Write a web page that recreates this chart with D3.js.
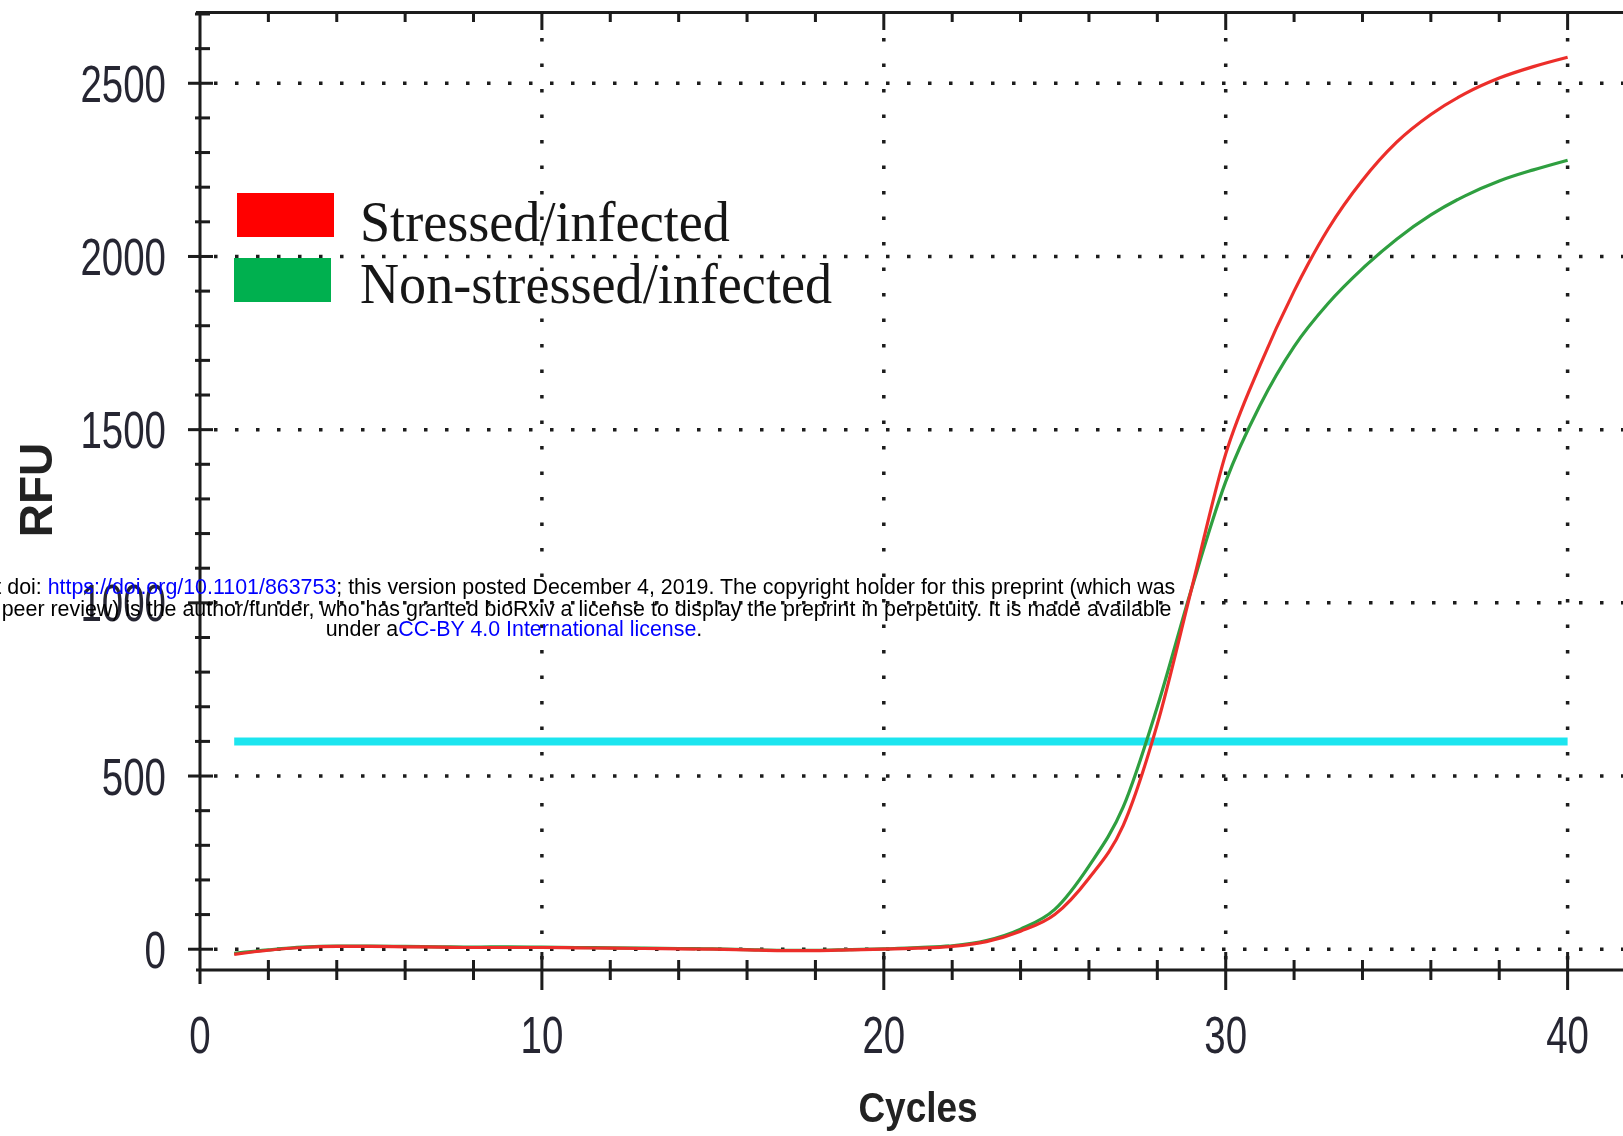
<!DOCTYPE html>
<html>
<head>
<meta charset="utf-8">
<script src="https://cdn.jsdelivr.net/npm/d3@7"></script>
<style>
  html, body { margin: 0; padding: 0; background: #fff; }
  svg { display: block; }
</style>
</head>
<body>
<svg id="chart" width="1623" height="1136"></svg>
<script>
// Amplification cycles and RFU readings for the two groups
const cycles = d3.range(1, 41);
const stressed = [
  -15, -3, 5, 8, 8, 7, 6, 5, 5, 5,
  4, 3, 2, 1, 0, -2, -4, -4, -2, 0,
  3, 8, 22, 52, 100, 205, 357, 650, 1040, 1430,
  1685, 1900, 2080, 2220, 2330, 2410, 2470, 2515, 2548, 2575
];
const nonStressed = [
  -12, -2, 6, 9, 9, 8, 7, 6, 7, 6,
  5, 4, 3, 2, 1, -1, -3, -3, -1, 1,
  5, 10, 25, 58, 115, 240, 410, 700, 1040, 1350,
  1570, 1740, 1865, 1965, 2050, 2120, 2175, 2218, 2250, 2278
];
const seriesNames = ["Stressed/infected", "Non-stressed/infected"];
const seriesColors = ["#ec2f2b", "#2f9f3f"];
const legendColors = ["#ff0000", "#00b04f"];
const threshold = 600;
const thresholdSpan = [1, 40];
const xTicks = [0, 10, 20, 30, 40];
const yTicks = [0, 500, 1000, 1500, 2000, 2500];

const svg = d3.select("#chart");
const W = 1623;

const x = d3.scaleLinear().domain([0, 41.62]).range([200, W]);
const y = d3.scaleLinear().domain([-60, 2700]).range([970, 14]);

const defs = svg.append("defs");
defs.append("filter").attr("id", "soft")
  .attr("x", "-5%").attr("y", "-5%").attr("width", "110%").attr("height", "110%")
  .append("feGaussianBlur").attr("stdDeviation", 0.7);

const plot = svg.append("g").attr("filter", "url(#soft)");
const ink = "#1a1a1a";

// dotted grid
plot.append("g").selectAll("line").data(yTicks).join("line")
  .attr("x1", 214).attr("x2", W)
  .attr("y1", d => y(d)).attr("y2", d => y(d))
  .attr("stroke", ink).attr("stroke-width", 3.5)
  .attr("stroke-dasharray", "3.5 17.5");
plot.append("g").selectAll("line").data(xTicks.filter(d => d > 0)).join("line")
  .attr("x1", d => x(d)).attr("x2", d => x(d))
  .attr("y1", 38).attr("y2", 962)
  .attr("stroke", ink).attr("stroke-width", 3.5)
  .attr("stroke-dasharray", "3.5 22");

// threshold line
plot.append("line")
  .attr("x1", x(thresholdSpan[0])).attr("x2", x(thresholdSpan[1]))
  .attr("y1", y(threshold)).attr("y2", y(threshold))
  .attr("stroke", "#1ee5ef").attr("stroke-width", 8);

// amplification curves
const line = d3.line()
  .x((d, i) => x(cycles[i]))
  .y(d => y(d))
  .curve(d3.curveMonotoneX);
[[nonStressed, seriesColors[1]], [stressed, seriesColors[0]]].forEach(([vals, color]) => {
  plot.append("path").datum(vals)
    .attr("d", line)
    .attr("fill", "none")
    .attr("stroke", color)
    .attr("stroke-width", 3.2);
});

// axes
const minorX = d3.range(2, 42, 2).filter(d => d % 10 !== 0);
const minorY = d3.range(0, 2701, 100).filter(d => d % 500 !== 0);

const axes = plot.append("g").attr("stroke", ink).attr("stroke-width", 3);
axes.append("line").attr("x1", 196).attr("x2", W).attr("y1", 12.5).attr("y2", 12.5);
axes.append("line").attr("x1", 196).attr("x2", W).attr("y1", 970).attr("y2", 970);
axes.append("line").attr("x1", 200).attr("x2", 200).attr("y1", 11).attr("y2", 984);

// bottom ticks
axes.append("g").selectAll("line").data(minorX).join("line")
  .attr("x1", d => x(d)).attr("x2", d => x(d)).attr("y1", 960).attr("y2", 980);
axes.append("g").selectAll("line").data(xTicks.filter(d => d > 0)).join("line")
  .attr("x1", d => x(d)).attr("x2", d => x(d)).attr("y1", 952).attr("y2", 990);
// top ticks
axes.append("g").selectAll("line").data(minorX).join("line")
  .attr("x1", d => x(d)).attr("x2", d => x(d)).attr("y1", 12).attr("y2", 22);
axes.append("g").selectAll("line").data(xTicks.filter(d => d > 0)).join("line")
  .attr("x1", d => x(d)).attr("x2", d => x(d)).attr("y1", 12).attr("y2", 30);
// left ticks
axes.append("g").selectAll("line").data(minorY).join("line")
  .attr("x1", 195).attr("x2", 210).attr("y1", d => y(d)).attr("y2", d => y(d));
axes.append("g").selectAll("line").data(yTicks).join("line")
  .attr("x1", 188).attr("x2", 213).attr("y1", d => y(d)).attr("y2", d => y(d));

// tick labels (narrow sans)
const tickFont = "'Liberation Sans', Arial, sans-serif";
plot.append("g").selectAll("text").data(yTicks).join("text")
  .attr("transform", d => `translate(166,${y(d) + 18.5}) scale(0.74,1)`)
  .attr("text-anchor", "end")
  .attr("font-family", tickFont).attr("font-size", 52)
  .attr("fill", "#262633")
  .text(d => d);
plot.append("g").selectAll("text").data(xTicks).join("text")
  .attr("transform", d => `translate(${x(d)},1053) scale(0.74,1)`)
  .attr("text-anchor", "middle")
  .attr("font-family", tickFont).attr("font-size", 52)
  .attr("fill", "#262633")
  .text(d => d);

// axis titles
plot.append("text")
  .attr("transform", "translate(918,1122) scale(0.88,1)")
  .attr("text-anchor", "middle")
  .attr("font-family", tickFont).attr("font-weight", "bold").attr("font-size", 42)
  .attr("fill", "#222")
  .text("Cycles");
plot.append("text")
  .attr("transform", "translate(52,490) rotate(-90)")
  .attr("text-anchor", "middle")
  .attr("font-family", tickFont).attr("font-weight", "bold").attr("font-size", 46)
  .attr("fill", "#222")
  .text("RFU");

// legend
const legendRows = [
  { name: seriesNames[0], color: legendColors[0], rx: 237, ry: 193, baseline: 241 },
  { name: seriesNames[1], color: legendColors[1], rx: 234, ry: 258, baseline: 303 }
];
const legend = plot.append("g");
legend.selectAll("rect").data(legendRows).join("rect")
  .attr("x", d => d.rx).attr("y", d => d.ry)
  .attr("width", 97).attr("height", 44)
  .attr("fill", d => d.color);
legend.selectAll("text").data(legendRows).join("text")
  .attr("transform", d => `translate(360,${d.baseline}) scale(0.95,1)`)
  .attr("font-family", "'Liberation Serif', 'Times New Roman', serif")
  .attr("font-size", 57)
  .attr("fill", "#151515")
  .text(d => d.name);

// preprint notice
const notice = svg.append("g")
  .attr("font-family", "'Liberation Sans', Arial, sans-serif")
  .attr("font-size", 21.4)
  .attr("text-anchor", "middle");
const blue = "#0000ff";
const noticeLines = [
  [["bioRxiv preprint doi: ", "#000"], ["https://doi.org/10.1101/863753", blue],
   ["; this version posted December 4, 2019. The copyright holder for this preprint (which was", "#000"]],
  [["not certified by peer review) is the author/funder, who has granted bioRxiv a license to display the preprint in perpetuity. It is made available", "#000"]],
  [["under a", "#000"], ["CC-BY 4.0 International license", blue], [".", "#000"]]
];
const noticeBaselines = [594, 616, 636];
noticeLines.forEach((parts, i) => {
  const t = notice.append("text").attr("x", 514).attr("y", noticeBaselines[i]);
  parts.forEach(([s, c]) => t.append("tspan").attr("fill", c).text(s));
});
</script>
</body>
</html>
